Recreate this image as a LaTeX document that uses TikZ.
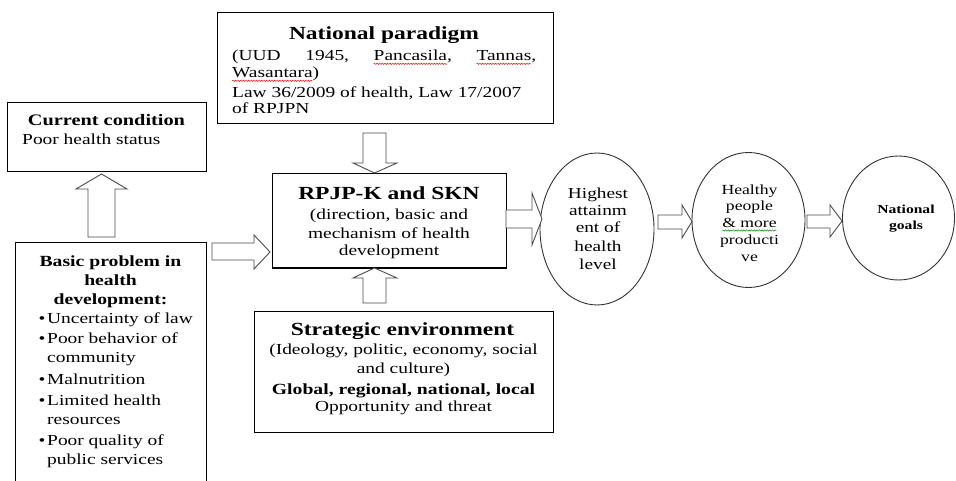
\documentclass[tikz,border=0pt]{standalone}
\usepackage{fontspec}
\setmainfont[FakeStretch=1.27]{Liberation Serif}
\usetikzlibrary{shapes.geometric,decorations.pathmorphing}
\newlength\wavylen
\newcommand\wavy[2]{\settowidth\wavylen{#2}\leavevmode\rlap{\tikz[baseline=0pt]{\useasboundingbox (0pt,0pt) rectangle (\wavylen,0pt);\draw[overlay,#1,line width=0.45pt,decorate,decoration={snake,amplitude=0.7pt,segment length=2.6pt}] (0pt,-2.8pt) -- (\wavylen,-2.8pt);}}#2}
\newcommand\fHd{\fontsize{18.5}{22}\selectfont\bfseries}
\newcommand\fCc{\fontsize{16}{19}\selectfont\bfseries}
\newcommand\fBd{\fontsize{15.3}{19}\selectfont}
\newcommand\fBb{\fontsize{15.5}{19}\selectfont\bfseries}
\newcommand\fEa{\fontsize{15.2}{18}\selectfont}
\newcommand\fEb{\fontsize{13.9}{17}\selectfont}
\newcommand\fEc{\fontsize{12.3}{15}\selectfont\bfseries}
\tikzset{
  box/.style={draw=black, line width=1pt, rectangle, inner sep=0},
  oval/.style={draw=black!80, line width=0.9pt, ellipse, inner sep=0},
  barrow/.style={draw=black!70, line width=0.9pt, fill=white, line join=miter},
  txt/.style={inner sep=0, anchor=base},
  txtl/.style={inner sep=0, anchor=base west},
}
\begin{document}
\begin{tikzpicture}[x=1pt,y=-1pt]
\useasboundingbox (0,0) rectangle (956,481);
\clip (0,0) rectangle (956,481);
\fill[white] (0,0) rectangle (956,481);

% boxes
\node[box, minimum width=199, minimum height=69] (cc) at (106.5,137.5) {};
\node[box, minimum width=191, minimum height=257] (bp) at (110.5,371.5) {};
\node[box, minimum width=336, minimum height=111] (np) at (385,68.5) {};
\node[box, minimum width=234, minimum height=94] (rp) at (389,221) {};
\node[box, minimum width=299, minimum height=121] (se) at (403.5,371.5) {};

% ellipses
\node[oval, minimum width=114, minimum height=152] (e1) at (597,229) {};
\node[oval, minimum width=113, minimum height=135] (e2) at (748.5,220) {};
\node[oval, minimum width=112, minimum height=124] (e3) at (898.5,218) {};

% block arrows
\draw[barrow] (88,237) -- (88,189) -- (76,189) -- (101.5,174) -- (127,189) -- (115,189) -- (115,237) -- cycle;
\draw[barrow] (212,243) -- (254,243) -- (254,235) -- (270,252) -- (254,269) -- (254,260) -- (212,260) -- cycle;
\draw[barrow] (363,133) -- (386,133) -- (386,163) -- (397,163) -- (374.5,173) -- (353,163) -- (363,163) -- cycle;
\draw[barrow] (363,303) -- (363,278) -- (353,278) -- (374.5,268) -- (397,278) -- (386,278) -- (386,303) -- cycle;
\draw[barrow] (506,210) -- (532,210) -- (532,193) -- (542,219) -- (532,245) -- (532,228) -- (506,228) -- cycle;
\draw[barrow] (658,215) -- (682,215) -- (682,205) -- (692,221.5) -- (682,238) -- (682,229) -- (658,229) -- cycle;
\draw[barrow] (807,215) -- (830,215) -- (830,205) -- (842,221) -- (830,237) -- (830,228) -- (807,228) -- cycle;

% current condition
\node[txt] (cc1) at (106.5,126) {\fCc Current condition};
\node[txtl] (cc2) at (22,145) {\fBd Poor health status};

% basic problem
\node[txt] (bp1) at (110.5,266.5) {\fBb Basic problem in};
\node[txt] (bp2) at (110.5,285) {\fBb health};
\node[txt] (bp3) at (110.5,304) {\fBb development:};
\foreach \yy in {323.3,343,384,405,445} {\node[txt] at (42,\yy) {\fBd\textbullet};}
\node[txtl] (bl1) at (47,323.3) {\fBd Uncertainty of law};
\node[txtl] (bl2) at (47,343) {\fBd Poor behavior of};
\node[txtl] (bl3) at (47,362) {\fBd community};
\node[txtl] (bl4) at (47,384) {\fBd Malnutrition};
\node[txtl] (bl5) at (47,405) {\fBd Limited health};
\node[txtl] (bl6) at (47,424) {\fBd resources};
\node[txtl] (bl7) at (47,445) {\fBd Poor quality of};
\node[txtl] (bl8) at (47,464) {\fBd public services};

% national paradigm
\node[txt] (np1) at (384,39.3) {\fHd National paradigm};
\node[txtl] (np2) at (232,61) {\fBd\makebox[304pt][l]{(UUD\hfill 1945,\hfill \wavy{red}{Pancasila},\hfill \wavy{red}{Tannas},}};
\node[txtl] (np3) at (232,78) {\fBd \wavy{red}{Wasantara})};
\node[txtl] (np4) at (232,97.5) {\fBd Law 36/2009 of health, Law 17/2007};
\node[txtl] (np5) at (232,114) {\fBd of RPJPN};

% RPJP
\node[txt] (rp1) at (389,199.3) {\fHd RPJP-K and SKN};
\node[txt] (rp2) at (389,220) {\fBd (direction, basic and};
\node[txt] (rp3) at (389,238.3) {\fBd mechanism of health};
\node[txt] (rp4) at (389,255) {\fBd development};

% strategic environment
\node[txt] (se1) at (402.5,335.7) {\fHd Strategic environment};
\node[txt] (se2) at (403.5,354.3) {\fBd (Ideology, politic, economy, social};
\node[txt] (se3) at (403.5,373.3) {\fBd and culture)};
\node[txt] (se4) at (403.5,394) {\fBb Global, regional, national, local};
\node[txt] (se5) at (403.5,411) {\fBd Opportunity and threat};

% ellipse texts
\node[txt] (t11) at (598,198.3) {\fEa Highest};
\node[txt] (t12) at (598,216) {\fEa attainm};
\node[txt] (t13) at (598,233) {\fEa ent of};
\node[txt] (t14) at (598,251.7) {\fEa health};
\node[txt] (t15) at (598,269.3) {\fEa level};
\node[txt] (t21) at (749.5,194.3) {\fEb Healthy};
\node[txt] (t22) at (749.5,211) {\fEb people};
\node[txt] (t23) at (749.5,227.7) {\fEb \wavy{green!50!black}{\&~more}};
\node[txt] (t24) at (749.5,244) {\fEb producti};
\node[txt] (t25) at (749.5,261.7) {\fEb ve};
\node[txt] (t31) at (906,213.3) {\fEc National};
\node[txt] (t32) at (906,230) {\fEc goals};
\end{tikzpicture}
\end{document}
